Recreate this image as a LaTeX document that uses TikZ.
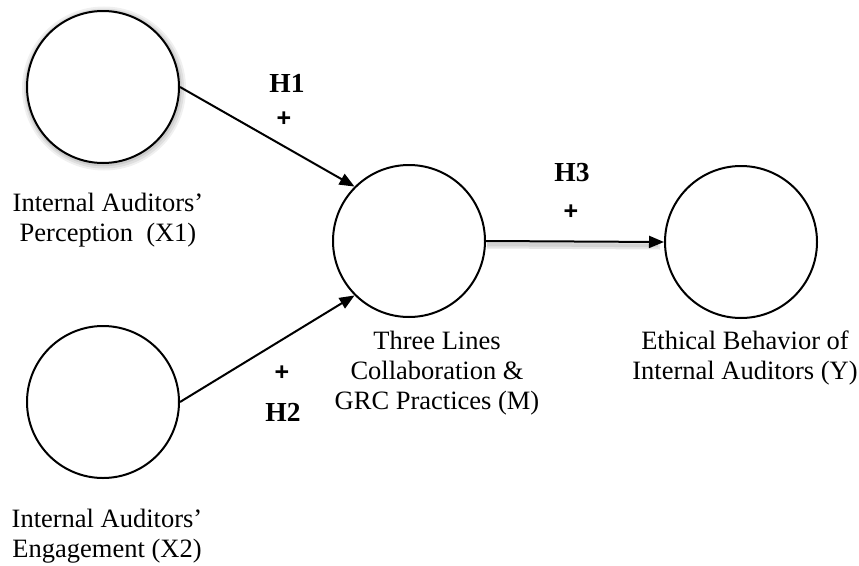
\documentclass[tikz,border=0pt]{standalone}
\usepackage{fontspec}
\setmainfont{Liberation Serif}
\newfontfamily\plusfont{Liberation Sans}
\usetikzlibrary{arrows.meta}
\begin{document}
\begin{tikzpicture}[x=1pt,y=-1pt,
  construct/.style={circle,draw,line width=2pt,minimum size=152pt,inner sep=0pt},
  lbl/.style={align=center,font=\fontsize{26.5}{30}\selectfont,inner sep=0pt},
  hyp/.style={font=\fontsize{27.5}{30}\selectfont\bfseries,inner sep=0pt},
  sgn/.style={font=\plusfont\fontsize{25}{28}\selectfont\bfseries,inner sep=0pt},
  path/.style={line width=2pt,-{Triangle[length=15pt,width=12pt]}}
]
\useasboundingbox (0,0) rectangle (859,565);
% shadow of X1
\draw[gray!12,line width=8pt] (104,88.5) circle (78);
\draw[gray!25,line width=5pt] (104,88.5) circle (77.5);
\draw[gray!40,line width=2.5pt] (103.5,88) circle (77);
\node[construct,fill=white] (X1) at (103,87) {};
\node[construct] (X2) at (103,402) {};
\node[construct] (M) at (409,241) {};
\node[construct] (Y) at (741,242) {};

\node[lbl] (lX1) at (108,220) {Internal Auditors'\\Perception~~(X1)};
\node[lbl] (lX2) at (107,536) {Internal Auditors'\\Engagement (X2)};
\node[lbl] (lM) at (437,373) {Three Lines\\Collaboration \&\\GRC Practices (M)};
\node[lbl] (lY) at (745,358) {Ethical Behavior of\\Internal Auditors (Y)};

\draw[path] (X1.east) -- (M.135);
\draw[path] (X2.east) -- (M.225);
% shadow of H3 path
\draw[gray!20,line width=7pt] ([xshift=1pt,yshift=-4pt]M.east) -- ([xshift=-4pt,yshift=-4pt]Y.west);
\draw[gray!35,line width=3.5pt] ([xshift=1pt,yshift=-3.5pt]M.east) -- ([xshift=-6pt,yshift=-3.5pt]Y.west);
\draw[path] (M.east) -- (Y.west);

\node[hyp] (h1) at (287,83) {H1};
\node[sgn] (s1) at (284,119) {+};
\node[sgn] (s2) at (282,373) {+};
\node[hyp] (h2) at (283,412) {H2};
\node[hyp] (h3) at (572,173) {H3};
\node[sgn] (s3) at (571,212) {+};
\end{tikzpicture}
\end{document}
